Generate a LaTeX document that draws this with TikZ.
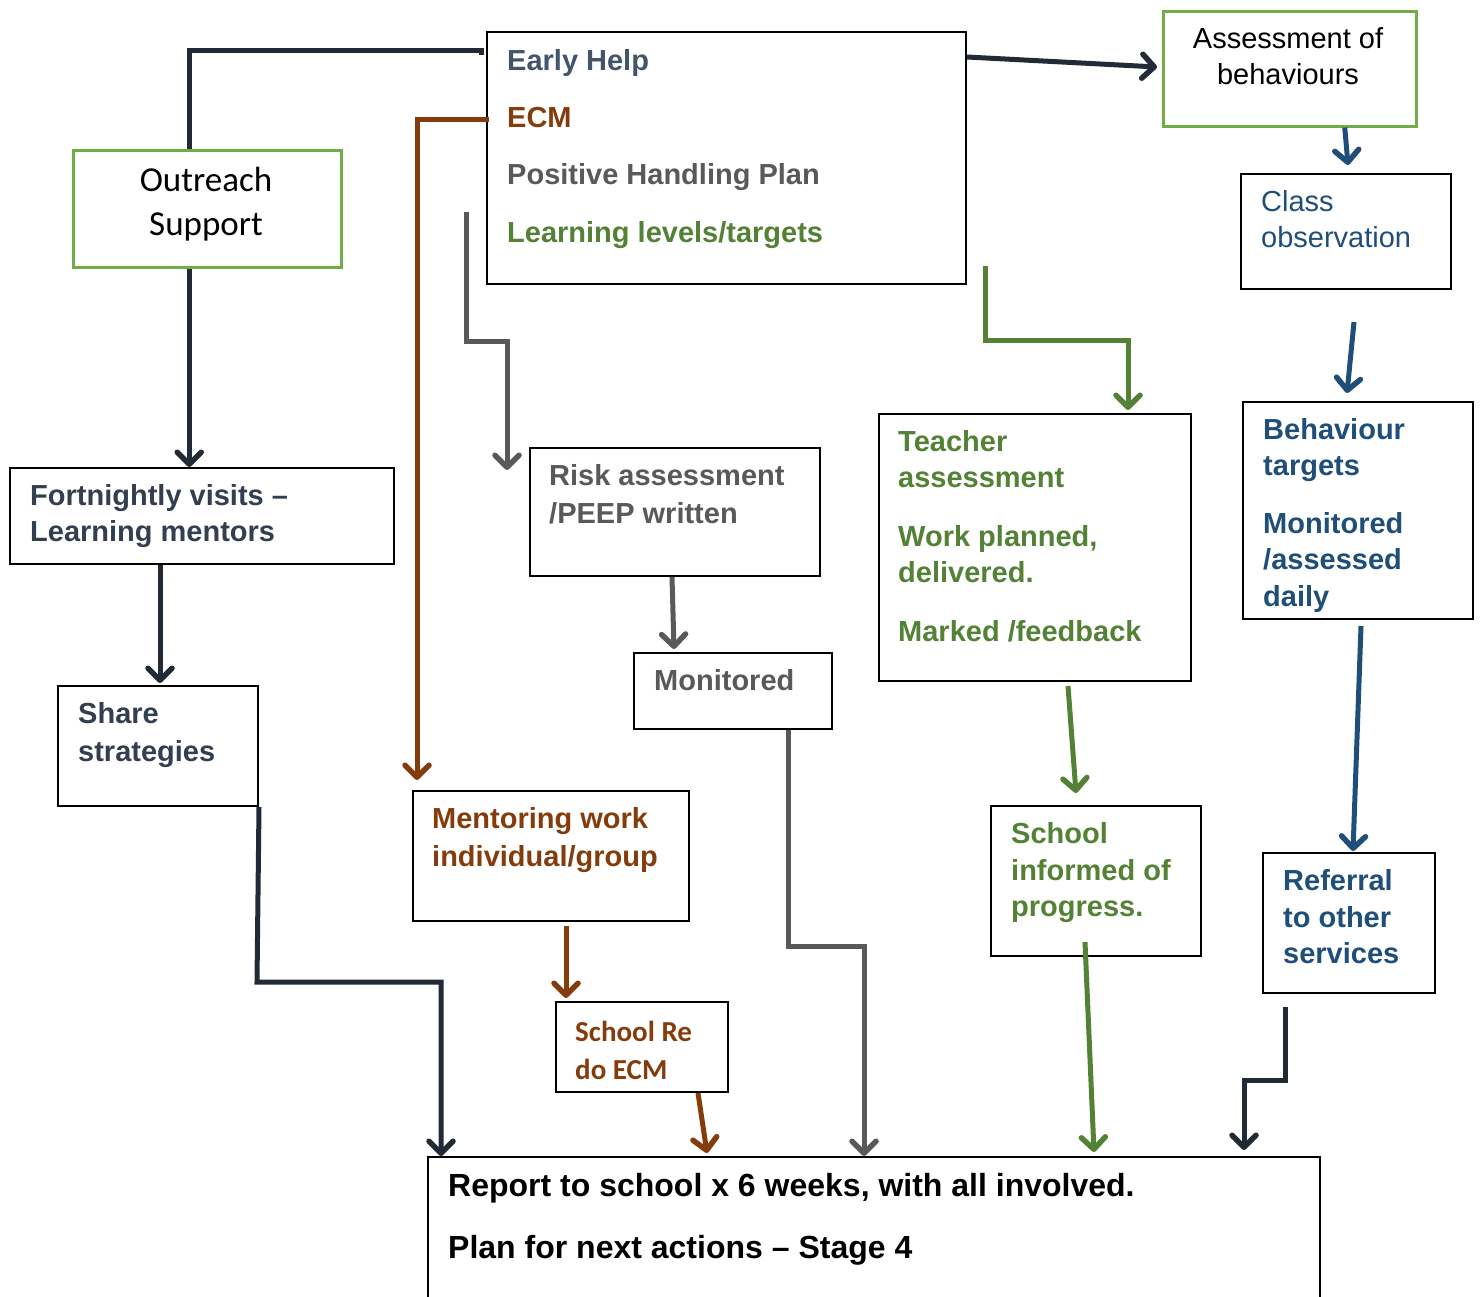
\documentclass[tikz,border=0pt]{standalone}
\usepackage{fontspec}
\setmainfont{Liberation Sans}
\newfontfamily\calib{Carlito}
\usetikzlibrary{arrows.meta}
\definecolor{navy}{HTML}{222A35}
\definecolor{ehblue}{HTML}{44546A}
\definecolor{dkblue}{HTML}{333F50}
\definecolor{grnb}{HTML}{70AD47}
\definecolor{grn}{HTML}{538135}
\definecolor{blu}{HTML}{1F4E79}
\definecolor{brn}{HTML}{843C0C}
\definecolor{gry}{HTML}{595959}
\begin{document}
\begin{tikzpicture}[x=1pt,y=-1pt,
  conn/.style={line width=5pt,-{Straight Barb[length=12pt,width=24pt,line width=5.5pt,round]}},
  plain/.style={line width=5pt},
  bx/.style={draw=black,line width=2pt,anchor=north west,inner sep=0pt},
  gbx/.style={draw=grnb,line width=2.5pt,anchor=north west,inner sep=0pt},
  tb/.style={anchor=base west,inner sep=0pt,font=\fontsize{29}{35}\selectfont\bfseries},
  tr/.style={anchor=base west,inner sep=0pt,font=\fontsize{29}{35}\selectfont},
  tc/.style={anchor=base,inner sep=0pt,font=\fontsize{29}{35}\selectfont},
  tcal/.style={anchor=base,inner sep=0pt,font=\calib\fontsize{35}{40}\selectfont},
  tcalb/.style={anchor=base west,inner sep=0pt,font=\calib\fontsize{29}{35}\selectfont\bfseries},
  trep/.style={anchor=base west,inner sep=0pt,font=\fontsize{32}{38}\selectfont\bfseries}]
\useasboundingbox (0,0) rectangle (1482,1296);

% boxes
\node[bx,minimum width=479pt,minimum height=252pt] (eh) at (486,31) {};
\node[gbx,minimum width=253pt,minimum height=115pt] (ab) at (1162,10) {};
\node[bx,minimum width=210pt,minimum height=115pt] (co) at (1240,173) {};
\node[gbx,minimum width=268pt,minimum height=117pt] (out) at (72,149) {};
\node[bx,minimum width=384pt,minimum height=96pt] (fv) at (9,467) {};
\node[bx,minimum width=200pt,minimum height=120pt] (ss) at (57,685) {};
\node[bx,minimum width=290pt,minimum height=128pt] (ra) at (529,447) {};
\node[bx,minimum width=198pt,minimum height=76pt] (mo) at (633,652) {};
\node[bx,minimum width=312pt,minimum height=267pt] (ta) at (878,413) {};
\node[bx,minimum width=230pt,minimum height=217pt] (bt) at (1242,401) {};
\node[bx,minimum width=276pt,minimum height=130pt] (mw) at (412,790) {};
\node[bx,minimum width=172pt,minimum height=90pt] (sr) at (555,1001) {};
\node[bx,minimum width=210pt,minimum height=150pt] (si) at (990,805) {};
\node[bx,minimum width=172pt,minimum height=140pt] (rf) at (1262,852) {};
\node[bx,minimum width=892pt,minimum height=170pt] (rp) at (427,1156) {};

% texts
\node[tb,text=ehblue] (eh1) at (507,70) {Early Help};
\node[tb,text=brn] (eh2) at (507,127) {ECM};
\node[tb,text=gry] (eh3) at (507,184) {Positive Handling Plan};
\node[tb,text=grn] (eh4) at (507,242) {Learning levels/targets};

\node[tc] (ab1) at (1288,48) {Assessment of};
\node[tc] (ab2) at (1288,84) {behaviours};

\node[tr,text=blu] (co1) at (1261,211) {Class};
\node[tr,text=blu] (co2) at (1261,247) {observation};

\node[tcal] (out1) at (206,191) {Outreach};
\node[tcal] (out2) at (206,235) {Support};

\node[tb,text=dkblue] (fv1) at (30,505) {Fortnightly visits –};
\node[tb,text=dkblue] (fv2) at (30,541) {Learning mentors};

\node[tb,text=dkblue] (ss1) at (78,723) {Share};
\node[tb,text=dkblue] (ss2) at (78,761) {strategies};

\node[tb,text=gry] (ra1) at (549,485) {Risk assessment};
\node[tb,text=gry] (ra2) at (549,523) {/PEEP written};

\node[tb,text=gry] (mo1) at (654,690) {Monitored};

\node[tb,text=grn] (ta1) at (898,451) {Teacher};
\node[tb,text=grn] (ta2) at (898,487) {assessment};
\node[tb,text=grn] (ta3) at (898,546) {Work planned,};
\node[tb,text=grn] (ta4) at (898,582) {delivered.};
\node[tb,text=grn] (ta5) at (898,641) {Marked /feedback};

\node[tb,text=blu] (bt1) at (1263,439) {Behaviour};
\node[tb,text=blu] (bt2) at (1263,475) {targets};
\node[tb,text=blu] (bt3) at (1263,533) {Monitored};
\node[tb,text=blu] (bt4) at (1263,569) {/assessed};
\node[tb,text=blu] (bt5) at (1263,606) {daily};

\node[tb,text=brn] (mw1) at (432,828) {Mentoring work};
\node[tb,text=brn] (mw2) at (432,866) {individual/group};

\node[tcalb,text=brn] (sr1) at (575,1041) {School Re};
\node[tcalb,text=brn] (sr2) at (575,1079) {do ECM};

\node[tb,text=grn] (si1) at (1011,843) {School};
\node[tb,text=grn] (si2) at (1011,880) {informed of};
\node[tb,text=grn] (si3) at (1011,916) {progress.};

\node[tb,text=blu] (rf1) at (1283,890) {Referral};
\node[tb,text=blu] (rf2) at (1283,927) {to other};
\node[tb,text=blu] (rf3) at (1283,963) {services};

\node[trep] (rp1) at (448,1196) {Report to school x 6 weeks, with all involved.};
\node[trep] (rp2) at (448,1258) {Plan for next actions – Stage 4};

% free ends
\coordinate (gS) at (466,212);
\coordinate (tS) at (985,266);
\coordinate (fS) at (1354,322);
\coordinate (jS) at (1068,686);
\coordinate (kS) at (1361,626);
\coordinate (lS) at (566,926);
\coordinate (pS) at (1085,942);
\coordinate (qS) at (1285,1007);

% connectors
\draw[plain,navy] ([xshift=-5pt,yshift=-24pt]eh.north west) -- ++(0,-5) -| ([xshift=-18pt]out.north);
\draw[conn,navy] ([xshift=-18pt]out.south) -- ([xshift=-18pt]out.south |- fv.north);
\draw[conn,brn] ([xshift=3pt,yshift=-88pt]eh.north west) -| ([xshift=5pt,yshift=10pt]mw.north west);
\draw[conn,gry] (gS) -- (466,341) -- (507,341) -- ([xshift=-22pt,yshift=-23pt]ra.north west);
\draw[conn,navy] ([yshift=-26pt]eh.north east) -- ([xshift=-5pt,yshift=-57pt]ab.north west);
\draw[conn,blu] ([xshift=55pt]ab.south) -- ([xshift=108pt,yshift=8pt]co.north west);
\draw[conn,blu] (fS) -- ([xshift=105pt,yshift=8pt]bt.north west);
\draw[conn,grn] (tS) -- (985,340) -- (1128,340) -- ([xshift=250pt,yshift=3pt]ta.north west);
\draw[conn,gry] ([xshift=-3pt]ra.south) -- ([xshift=-59pt,yshift=3pt]mo.north);
\draw[conn,navy] ([xshift=-42pt]fv.south) -- ([xshift=2pt,yshift=2pt]ss.north);
\draw[conn,grn] (jS) -- ([xshift=86pt,yshift=12pt]si.north west);
\draw[conn,blu] (kS) -- ([xshift=91pt,yshift=1pt]rf.north west);
\draw[conn,brn] (lS) -- ([xshift=11pt,yshift=3pt]sr.north west);
\draw[conn,navy] (ss.south east) -- (257,982) -- (441,982) -- ([xshift=14pt]rp.north west);
\draw[conn,brn] ([xshift=143pt]sr.south west) -- ([xshift=280pt,yshift=3pt]rp.north west);
\draw[conn,gry] ([xshift=155pt]mo.south west) -- (788,946) -- (864,946) -- ([xshift=437pt]rp.north west);
\draw[conn,grn] (pS) -- ([xshift=667pt,yshift=4pt]rp.north west);
\draw[conn,navy] (qS) -- (1285,1080) -- (1244,1080) -- ([xshift=817pt,yshift=6pt]rp.north west);
\end{tikzpicture}
\end{document}
